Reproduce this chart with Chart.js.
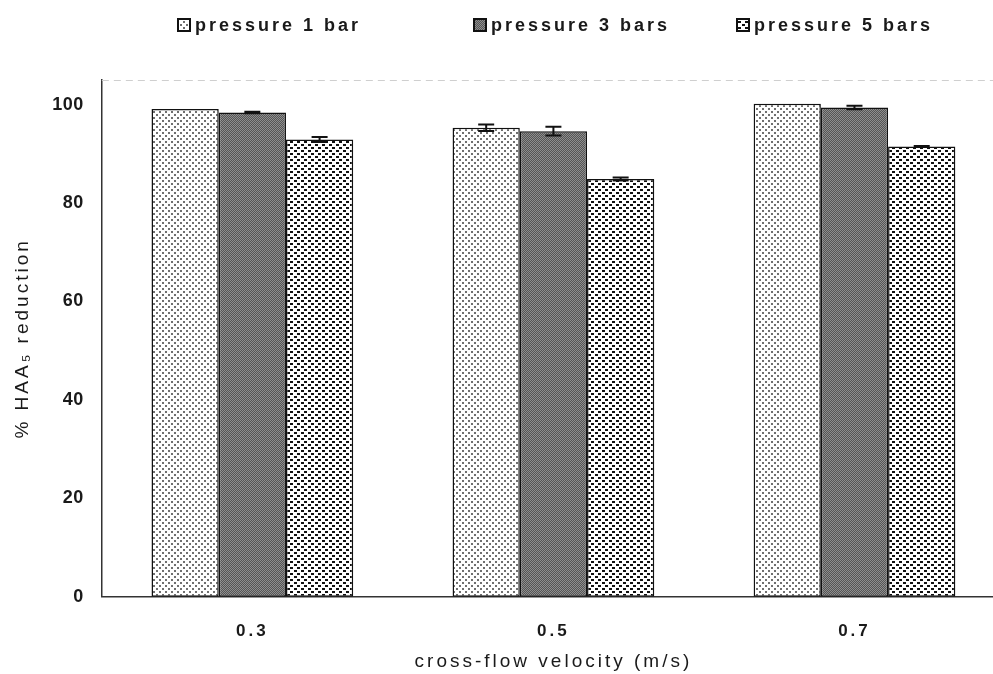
<!DOCTYPE html>
<html><head><meta charset="utf-8">
<script src="https://cdn.jsdelivr.net/npm/chart.js@4/dist/chart.umd.min.js"></script>
<style>
html,body{margin:0;padding:0;background:#fff;overflow:hidden;width:993px;height:674px;}
#wrap{width:1012px;height:674px;position:relative;}
</style></head><body>
<div id="wrap"><canvas id="c"></canvas></div>
<script>
const categories = ['0.3', '0.5', '0.7'];
const seriesLabels = ['pressure 1 bar', 'pressure 3 bars', 'pressure 5 bars'];
const pressure1 = [99.1, 95.3, 100.2];
const pressure3 = [98.4, 94.6, 99.4];
const pressure5 = [92.9, 84.9, 91.5];
const err1 = [0, 0.65, 0];
const err3 = [0.15, 0.9, 0.35];
const err5 = [0.5, 0.3, 0.1];
const yTicks = [0, 20, 40, 60, 80, 100];

const FONT = 'Liberation Sans, Arial, sans-serif';
const TEXT = '#1a1a1a';

function makePattern(kind) {
  const c = document.createElement('canvas');
  const g = c.getContext('2d');
  if (kind === 1) {
    c.width = 6; c.height = 6;
    g.fillStyle = '#fff'; g.fillRect(0,0,6,6);
    g.fillStyle = '#707070';
    g.fillRect(0,0,2,2); g.fillRect(3,3,2,2);
  } else if (kind === 2) {
    c.width = 2; c.height = 2;
    g.fillStyle = '#555'; g.fillRect(0,0,2,2);
    g.fillStyle = '#8e8e8e'; g.fillRect(0,0,1,1); g.fillRect(1,1,1,1);
  } else {
    c.width = 7; c.height = 6;
    g.fillStyle = '#fff'; g.fillRect(0,0,7,6);
    g.fillStyle = '#111';
    g.fillRect(0,0,3,2); g.fillRect(1,1,2,1);
    g.fillRect(3,3,3,2); g.fillRect(4,4,2,1);
  }
  return g.createPattern(c, 'repeat');
}
const pats = [makePattern(1), makePattern(2), makePattern(3)];
const errs = [err1, err3, err5];

const SP = '3px';
const spacing = {
  id: 'spacing',
  beforeUpdate(chart){ chart.ctx.letterSpacing = SP; },
  beforeLayout(chart){
    chart.ctx.letterSpacing = SP;
    const ys = chart.scales && chart.scales.y;
    if (ys && !ys._wrapped) {
      const orig = ys.drawLabels;
      ys.drawLabels = function(area){
        const ctx = this.ctx; const old = ctx.letterSpacing;
        ctx.letterSpacing = '0.5px';
        orig.call(this, area);
        ctx.letterSpacing = old;
      };
      ys._wrapped = true;
    }
  },
  beforeDraw(chart){ chart.ctx.letterSpacing = SP; }
};

// Legend drawn at the top (positions are layout only)
const legendX = [178, 474, 737];
const legendY = 25;
const topLegend = {
  id: 'topLegend',
  afterDraw(chart){
    const ctx = chart.ctx;
    ctx.save();
    ctx.letterSpacing = SP;
    ctx.font = 'bold 18px ' + FONT;
    ctx.textBaseline = 'middle';
    chart.data.datasets.forEach((ds, i) => {
      const x = legendX[i];
      ctx.fillStyle = ds.backgroundColor;
      ctx.fillRect(x, legendY - 6, 12, 12);
      ctx.strokeStyle = '#111'; ctx.lineWidth = 2;
      ctx.strokeRect(x, legendY - 6, 12, 12);
      ctx.fillStyle = TEXT;
      ctx.fillText(ds.label, x + 17, legendY + 1);
    });
    ctx.restore();
  }
};

const frame = {
  id: 'frame',
  beforeDatasetsDraw(chart){
    const {ctx, chartArea:a} = chart;
    ctx.save();
    ctx.strokeStyle = '#cfcfcf'; ctx.lineWidth = 1;
    ctx.setLineDash([7,5]);
    ctx.beginPath(); ctx.moveTo(a.left, a.top+0.5); ctx.lineTo(a.right, a.top+0.5); ctx.stroke();
    ctx.restore();
  }
};

const errorBars = {
  id: 'errorBars',
  afterDatasetsDraw(chart){
    const ctx = chart.ctx, y = chart.scales.y;
    ctx.save();
    ctx.strokeStyle = '#111'; ctx.lineWidth = 2;
    chart.data.datasets.forEach((ds, i) => {
      const meta = chart.getDatasetMeta(i);
      meta.data.forEach((bar, j) => {
        const e = errs[i][j];
        if (!e) return;
        const v = ds.data[j];
        const top = y.getPixelForValue(v + e), bot = y.getPixelForValue(v - e);
        const x = bar.x, w = 8;
        ctx.beginPath();
        ctx.moveTo(x, top); ctx.lineTo(x, bot);
        ctx.moveTo(x-w, top); ctx.lineTo(x+w, top);
        ctx.moveTo(x-w, bot); ctx.lineTo(x+w, bot);
        ctx.stroke();
      });
    });
    ctx.restore();
  }
};

const datasets = [pressure1, pressure3, pressure5].map((d, i) => ({
  label: seriesLabels[i],
  data: d,
  backgroundColor: pats[i],
  borderColor: '#111',
  borderWidth: 1.5,
  borderSkipped: false,
  barPercentage: 1.0,
  categoryPercentage: 0.67
}));

new Chart(document.getElementById('c'), {
  type: 'bar',
  data: { labels: categories, datasets },
  plugins: [spacing, frame, errorBars, topLegend],
  options: {
    responsive: true, maintainAspectRatio: false, animation: false,
    layout: { padding: { left: 11, right: 7, top: 80, bottom: 1 } },
    plugins: {
      legend: { display: false },
      tooltip: { enabled: false }
    },
    scales: {
      x: {
        grid: { display: false, drawTicks: false },
        border: { color: '#333', width: 1.5 },
        ticks: { color: TEXT, padding: 24, font: { family: FONT, size: 17, weight: 'bold' } },
        title: { display: true, text: 'cross-flow velocity (m/s)', color: TEXT, padding: { top: -15, bottom: 0 },
                 font: { family: FONT, size: 19 } }
      },
      y: {
        min: 0, max: 105,
        afterBuildTicks(scale){ scale.ticks = yTicks.map(v => ({ value: v })); },
        grid: { display: false, drawTicks: false },
        border: { color: '#333', width: 1.5 },
        ticks: { color: TEXT, padding: 18, font: { family: FONT, size: 18, weight: 'bold' } },
        title: { display: true, text: '% HAA\u2085 reduction', color: TEXT, padding: { top: 0, bottom: -7 },
                 font: { family: FONT, size: 19 } }
      }
    }
  }
});
</script>
</body></html>
